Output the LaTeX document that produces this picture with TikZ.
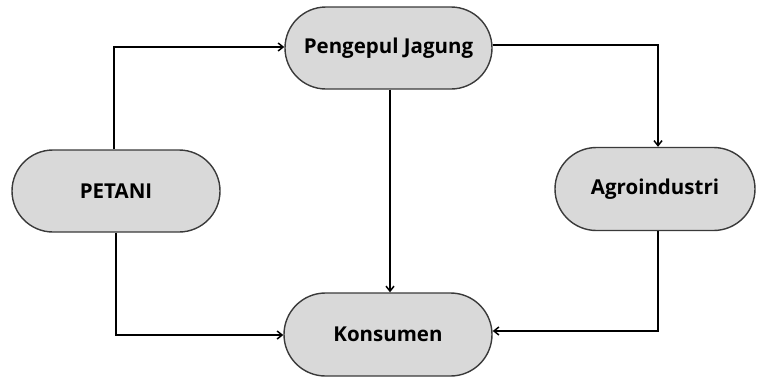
\documentclass[tikz,border=0pt]{standalone}
\usepackage{fontspec}
\setmainfont{Open Sans}
\usetikzlibrary{arrows.meta,shapes.misc}
\definecolor{boxfill}{HTML}{D9D9D9}
\definecolor{boxline}{HTML}{3A3A3A}
\begin{document}
\begin{tikzpicture}[x=1pt,y=-1pt,
  pill/.style={rounded rectangle, draw=boxline, line width=1.4pt, fill=boxfill,
    minimum height=82pt, inner sep=0pt, font=\bfseries\fontsize{20.5}{22}\selectfont},
  conn/.style={draw=black, line width=1.8pt, -{Straight Barb[length=5pt,width=8pt,line width=1.5pt]}}]
\useasboundingbox (0,0) rectangle (757,381);
\node[pill, minimum width=207pt] (peng) at (388.5,48) {Pengepul Jagung};
\node[pill, minimum width=208pt] (pet) at (116,191) {PETANI};
\node[pill, minimum width=200pt, minimum height=83pt] (agro) at (655,189) {Agroindustri};
\node[pill, minimum width=208pt, minimum height=83pt] (kons) at (388,334.5) {Konsumen};
\draw[conn] (pet.north -| 114,0) |- (peng.west |- 0,47);
\draw[conn] (pet.south -| 116,0) |- (kons.west |- 0,335);
\draw[conn] (peng.south -| 390,0) -- (kons.north -| 390,0);
\draw[conn] (peng.east |- 0,45) -| (agro.north -| 658,0);
\draw[conn] (agro.south -| 658,0) |- (kons.east |- 0,331);
\end{tikzpicture}
\end{document}
